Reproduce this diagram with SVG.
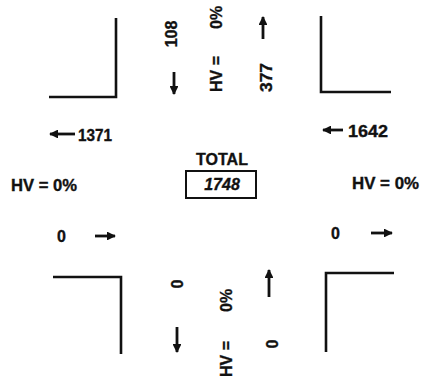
<svg xmlns="http://www.w3.org/2000/svg" width="421" height="377" viewBox="0 0 421 377">
<style>
.t{font-family:"Liberation Sans",Arial,sans-serif;font-weight:bold;font-size:16px;fill:#111;stroke:#111;stroke-width:0.35}
.r{fill:none;stroke:#111;stroke-width:2.6}
.a{stroke:#111;stroke-width:2.8;fill:none}
</style>
<defs>
<marker id="ah" viewBox="0 0 10 10" refX="9" refY="5" markerWidth="3.2" markerHeight="3.2" orient="auto" markerUnits="strokeWidth">
<path d="M0,0 L10,5 L0,10 Z" fill="#111"/>
</marker>
</defs>
<rect width="421" height="377" fill="#fff"/>
<g id="corners">
<polyline class="r" points="49,97 116,97 116,18"/>
<polyline class="r" points="321,16 321,92 391,92"/>
<polyline class="r" points="53,277 121,277 121,354"/>
<polyline class="r" points="326,352 326,273 394,273"/>
</g>
<g id="connectors">
<line class="a" x1="174" y1="72" x2="174" y2="94" marker-end="url(#ah)"/>
<line class="a" x1="263" y1="39" x2="263" y2="17" marker-end="url(#ah)"/>
<line class="a" x1="177" y1="327" x2="177" y2="352" marker-end="url(#ah)"/>
<line class="a" x1="269" y1="297" x2="269" y2="270" marker-end="url(#ah)"/>
<line class="a" x1="75" y1="134" x2="50" y2="134" marker-end="url(#ah)"/>
<line class="a" x1="343" y1="130" x2="323" y2="130" marker-end="url(#ah)"/>
<line class="a" x1="95" y1="236" x2="115" y2="236" marker-end="url(#ah)"/>
<line class="a" x1="371" y1="233" x2="392" y2="233" marker-end="url(#ah)"/>
</g>
<g id="north">
<text class="t" transform="translate(177,34) rotate(-90)" text-anchor="middle">108</text>
<text class="t" transform="translate(222,92) rotate(-90)"><tspan x="0">HV =</tspan><tspan x="63">0%</tspan></text>
<text class="t" transform="translate(272,92) rotate(-90)" textLength="29" lengthAdjust="spacingAndGlyphs">377</text>
</g>
<g id="west">
<text class="t" x="78" y="141" textLength="34" lengthAdjust="spacingAndGlyphs">1371</text>
<text class="t" x="11" y="191" textLength="66" lengthAdjust="spacingAndGlyphs">HV = 0%</text>
<text class="t" x="57" y="242">0</text>
</g>
<g id="east">
<text class="t" x="348" y="137" textLength="40" lengthAdjust="spacingAndGlyphs">1642</text>
<text class="t" x="352" y="189" textLength="67" lengthAdjust="spacingAndGlyphs">HV = 0%</text>
<text class="t" x="331" y="239">0</text>
</g>
<g id="total">
<text class="t" x="222" y="165" text-anchor="middle">TOTAL</text>
<rect x="186" y="171" width="70" height="27" fill="#fff" stroke="#111" stroke-width="2"/>
<text class="t" x="222" y="190" text-anchor="middle" style="font-style:italic">1748</text>
</g>
<g id="south">
<text class="t" transform="translate(183,284) rotate(-90)" text-anchor="middle">0</text>
<text class="t" transform="translate(232,377) rotate(-90)"><tspan x="0">HV =</tspan><tspan x="65">0%</tspan></text>
<text class="t" transform="translate(278,344) rotate(-90)" text-anchor="middle">0</text>
</g>
</svg>
